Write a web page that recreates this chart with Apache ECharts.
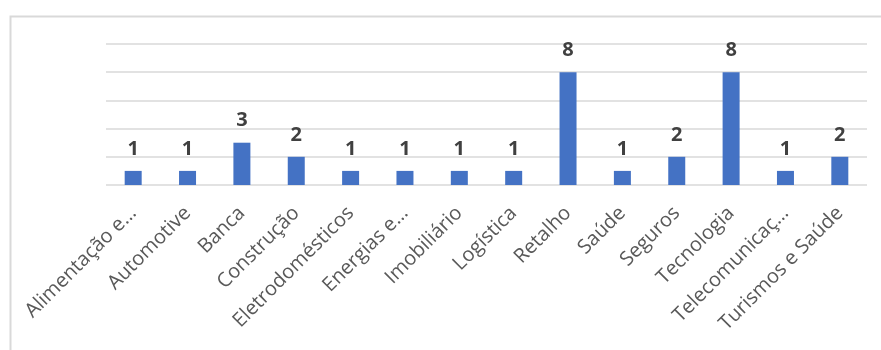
<!DOCTYPE html>
<html><head><meta charset="utf-8">
<script src="https://cdn.jsdelivr.net/npm/echarts@6/dist/echarts.min.js"></script>
<style>html,body{margin:0;padding:0;background:#fff}#c{width:881px;height:350px}</style>
</head><body><div id="c"></div>
<script>
const categories = ["Alimentação e…","Automotive","Banca","Construção","Eletrodomésticos","Energias e…","Imobiliário","Logística","Retalho","Saúde","Seguros","Tecnologia","Telecomunicaç…","Turismos e Saúde"];
const values = [1,1,3,2,1,1,1,1,8,1,2,8,1,2];
const yTicks = [0,2,4,6,8,10];

const chart = echarts.init(document.getElementById('c'));
chart.setOption({
  animation:false,
  graphic:[{type:'rect',left:8,top:14,shape:{width:900,height:400},style:{fill:'none',stroke:'#d9d9d9',lineWidth:2},silent:true}],
  grid:{left:106,right:14,top:44,bottom:165},
  xAxis:{type:'category',data:categories,
    axisLine:{show:false},axisTick:{show:false},
    axisLabel:{rotate:45,interval:0,fontFamily:'Open Sans',fontSize:20,color:'#595959',margin:25}},
  yAxis:{type:'value',min:yTicks[0],max:yTicks[yTicks.length-1],interval:2,
    axisLabel:{show:false},axisLine:{show:false},axisTick:{show:false},
    splitLine:{lineStyle:{color:'#d9d9d9',width:1.5}}},
  series:[{type:'bar',data:values,barWidth:17,itemStyle:{color:'#4472C4'},
    label:{show:true,position:'top',distance:12,fontFamily:'Open Sans',fontWeight:'bold',fontSize:20,color:'#404040'}}]
});
</script></body></html>
